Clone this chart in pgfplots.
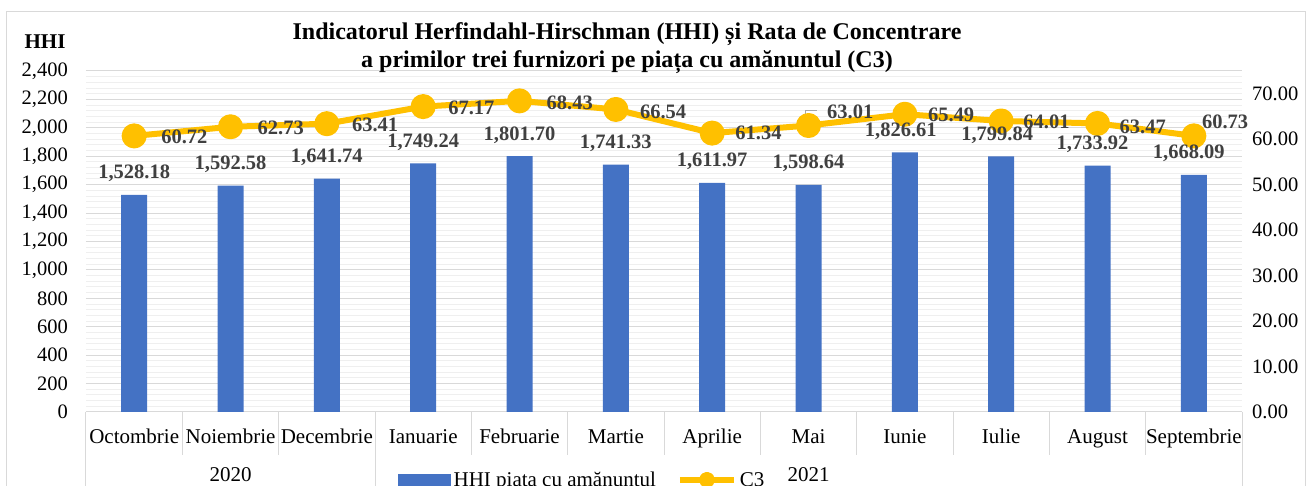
\documentclass[border=0pt]{standalone}
\usepackage{fontspec}
\setmainfont{Liberation Serif}
\usepackage{pgfplots}
\pgfplotsset{compat=1.18}
\usepackage{pgfplotstable}
\definecolor{barblue}{HTML}{4472C4}
\definecolor{cyellow}{HTML}{FFC000}
\definecolor{lbl}{HTML}{404040}
\definecolor{gridmaj}{HTML}{D9D9D9}
\definecolor{gridmin}{HTML}{EFEFEF}
\definecolor{leader}{HTML}{A6A6A6}

\pgfplotstableread{
x hhi bdx
0 1528.18 0
1 1592.58 0
2 1641.74 0
3 1749.24 0
4 1801.70 0
5 1741.33 0
6 1611.97 0
7 1598.64 0
8 1826.61 -4
9 1799.84 -4
10 1733.92 -5
11 1668.09 -5
}\hhitable

\pgfplotstableread{
x c3 dx dy
0 60.72 27 -1
1 62.73 27 -1
2 63.41 25 -1
3 67.17 25 -1.5
4 68.43 27 -2
5 66.54 24 -2.5
6 61.34 23 0
7 63.01 18.5 13.5
8 65.49 23 -1
9 64.01 22 -1
10 63.47 22 -3.5
11 60.73 8 14
}\cthreetable

\pgfplotsset{
  common/.style={
    at={(0pt,0pt)}, anchor=south west,
    scale only axis, width=1156pt, height=341pt,
    xmin=-0.5, xmax=11.5, enlargelimits=false,
    major tick length=0pt, minor tick length=0pt,
    tick label style={font=\fontsize{20.5}{24}\selectfont, text=black},
    /pgf/number format/assume math mode=true,
    scaled y ticks=false,
  },
}

\begin{document}
\begin{tikzpicture}[font=\fontsize{21}{24}\selectfont]
\useasboundingbox (-86pt,-74pt) rectangle (1228pt,412pt);
\begin{scope}
\clip (-86pt,-74pt) rectangle (1228pt,412pt);

% ---------- left axis: bars ----------
\begin{axis}[common,
  clip=false,
  ymin=0, ymax=2400,
  axis x line*=bottom, axis y line*=left,
  y axis line style={draw=none},
  x axis line style={gridmaj, line width=1pt},
  ytick={0,200,...,2400}, minor y tick num=4,
  ymajorgrids, yminorgrids,
  major grid style={gridmaj, line width=1pt},
  minor grid style={gridmin, line width=1pt},
  yticklabel style={anchor=east, inner sep=0pt, xshift=-18pt,
    /pgf/number format/.cd, fixed, 1000 sep={,}},
  xtick={0,...,11},
  xticklabels={Octombrie,Noiembrie,Decembrie,Ianuarie,Februarie,Martie,Aprilie,Mai,Iunie,Iulie,August,Septembrie},
  xticklabel style={anchor=base, inner sep=0pt, yshift=-32pt, font=\fontsize{21}{24}\selectfont},
]
\addplot[ybar, bar width=26pt, fill=barblue, draw=none] table[x=x, y=hhi]{\hhitable};
\pgfplotsinvokeforeach{0.5,1.5,3.5,4.5,5.5,6.5,7.5,8.5,9.5,10.5}{
  \draw[gridmaj, line width=1pt] (axis cs:#1,0) -- ++(0pt,-43pt);
}
\pgfplotsinvokeforeach{-0.5,2.5,11.5}{
  \draw[gridmaj, line width=1pt] (axis cs:#1,0) -- ++(0pt,-90pt);
}
\node[anchor=base, inner sep=0pt, yshift=-69.5pt] at (axis cs:1,0) {2020};
\node[anchor=base, inner sep=0pt, yshift=-69.5pt] at (axis cs:7,0) {2021};
\end{axis}

% ---------- right axis: C3 line ----------
\begin{axis}[common,
  ymin=0, ymax=75,
  axis y line*=right, axis x line=none,
  y axis line style={draw=none},
  ytick={0,10,...,70},
  yticklabel style={anchor=west, inner sep=0pt, xshift=10pt,
    /pgf/number format/.cd, fixed, fixed zerofill, precision=2},
  legend columns=2,
  legend style={at={(0.2699,-0.199)}, anchor=west, draw=none, fill=none,
    inner sep=0pt, font=\fontsize{21}{24}\selectfont,
    nodes={inner sep=3pt},
    /tikz/every even column/.append style={column sep=18pt}},
  legend cell align=left,
]
\addlegendimage{legend image code/.code={\fill[barblue] (0pt,-6pt) rectangle (52pt,6pt);}}
\addlegendentry{HHI piața cu amănuntul}
\addplot[cyellow, line width=6pt, line join=round, mark=*,
  mark size=9.5pt, mark options={fill=cyellow, draw=none},
  legend image code/.code={\draw[cyellow, line width=6pt] (0pt,0pt) -- (54pt,0pt); \fill[cyellow] (27pt,0pt) circle (5pt);}]
  table[x=x, y=c3]{\cthreetable};
\addlegendentry{C3}
\draw[leader, line width=1pt] (axis cs:7,63.01) ++(-3.5pt,2.5pt) -- ++(0pt,13pt) -- ++(12pt,0pt);
\addplot[draw=none, mark=none, forget plot,
  point meta=y,
  visualization depends on={\thisrow{dx} \as \mydx},
  visualization depends on={\thisrow{dy} \as \mydy},
  nodes near coords={\pgfmathprintnumber[fixed, fixed zerofill, precision=2, assume math mode=true]{\pgfplotspointmeta}},
  nodes near coords align={anchor=west},
  every node near coord/.append style={anchor=west, inner sep=0pt, text=lbl,
    font=\fontsize{20.5}{24}\bfseries, xshift=\mydx pt, yshift=\mydy pt},
] table[x=x, y=c3]{\cthreetable};
\end{axis}

% ---------- overlay: bar labels ----------
\begin{axis}[common,
  ymin=0, ymax=2400, hide axis, clip=false,
]
\addplot[draw=none, mark=none, forget plot,
  point meta=y,
  visualization depends on={\thisrow{bdx} \as \mybdx},
  nodes near coords={\pgfmathprintnumber[fixed, fixed zerofill, precision=2, 1000 sep={,}, assume math mode=true]{\pgfplotspointmeta}},
  nodes near coords align={anchor=base},
  every node near coord/.append style={anchor=base, inner sep=0pt, text=lbl,
    font=\fontsize{20.5}{24}\bfseries, xshift=\mybdx pt, yshift=16pt},
] table[x=x, y=hhi]{\hhitable};
\end{axis}

% ---------- titles and frame ----------
\node[font=\fontsize{24}{28}\bfseries, inner sep=0pt, anchor=base] at (541pt,372pt)
  {Indicatorul Herfindahl-Hirschman (HHI) și Rata de Concentrare};
\node[font=\fontsize{24}{28}\bfseries, inner sep=0pt, anchor=base] at (541pt,344pt)
  {a primilor trei furnizori pe piața cu amănuntul (C3)};
\node[font=\fontsize{21}{24}\bfseries, inner sep=0pt] at (-41pt,370pt) {HHI};
\draw[gridmaj, line width=1pt] (-79pt,-120pt) rectangle (1219pt,400pt);
\end{scope}
\end{tikzpicture}
\end{document}
